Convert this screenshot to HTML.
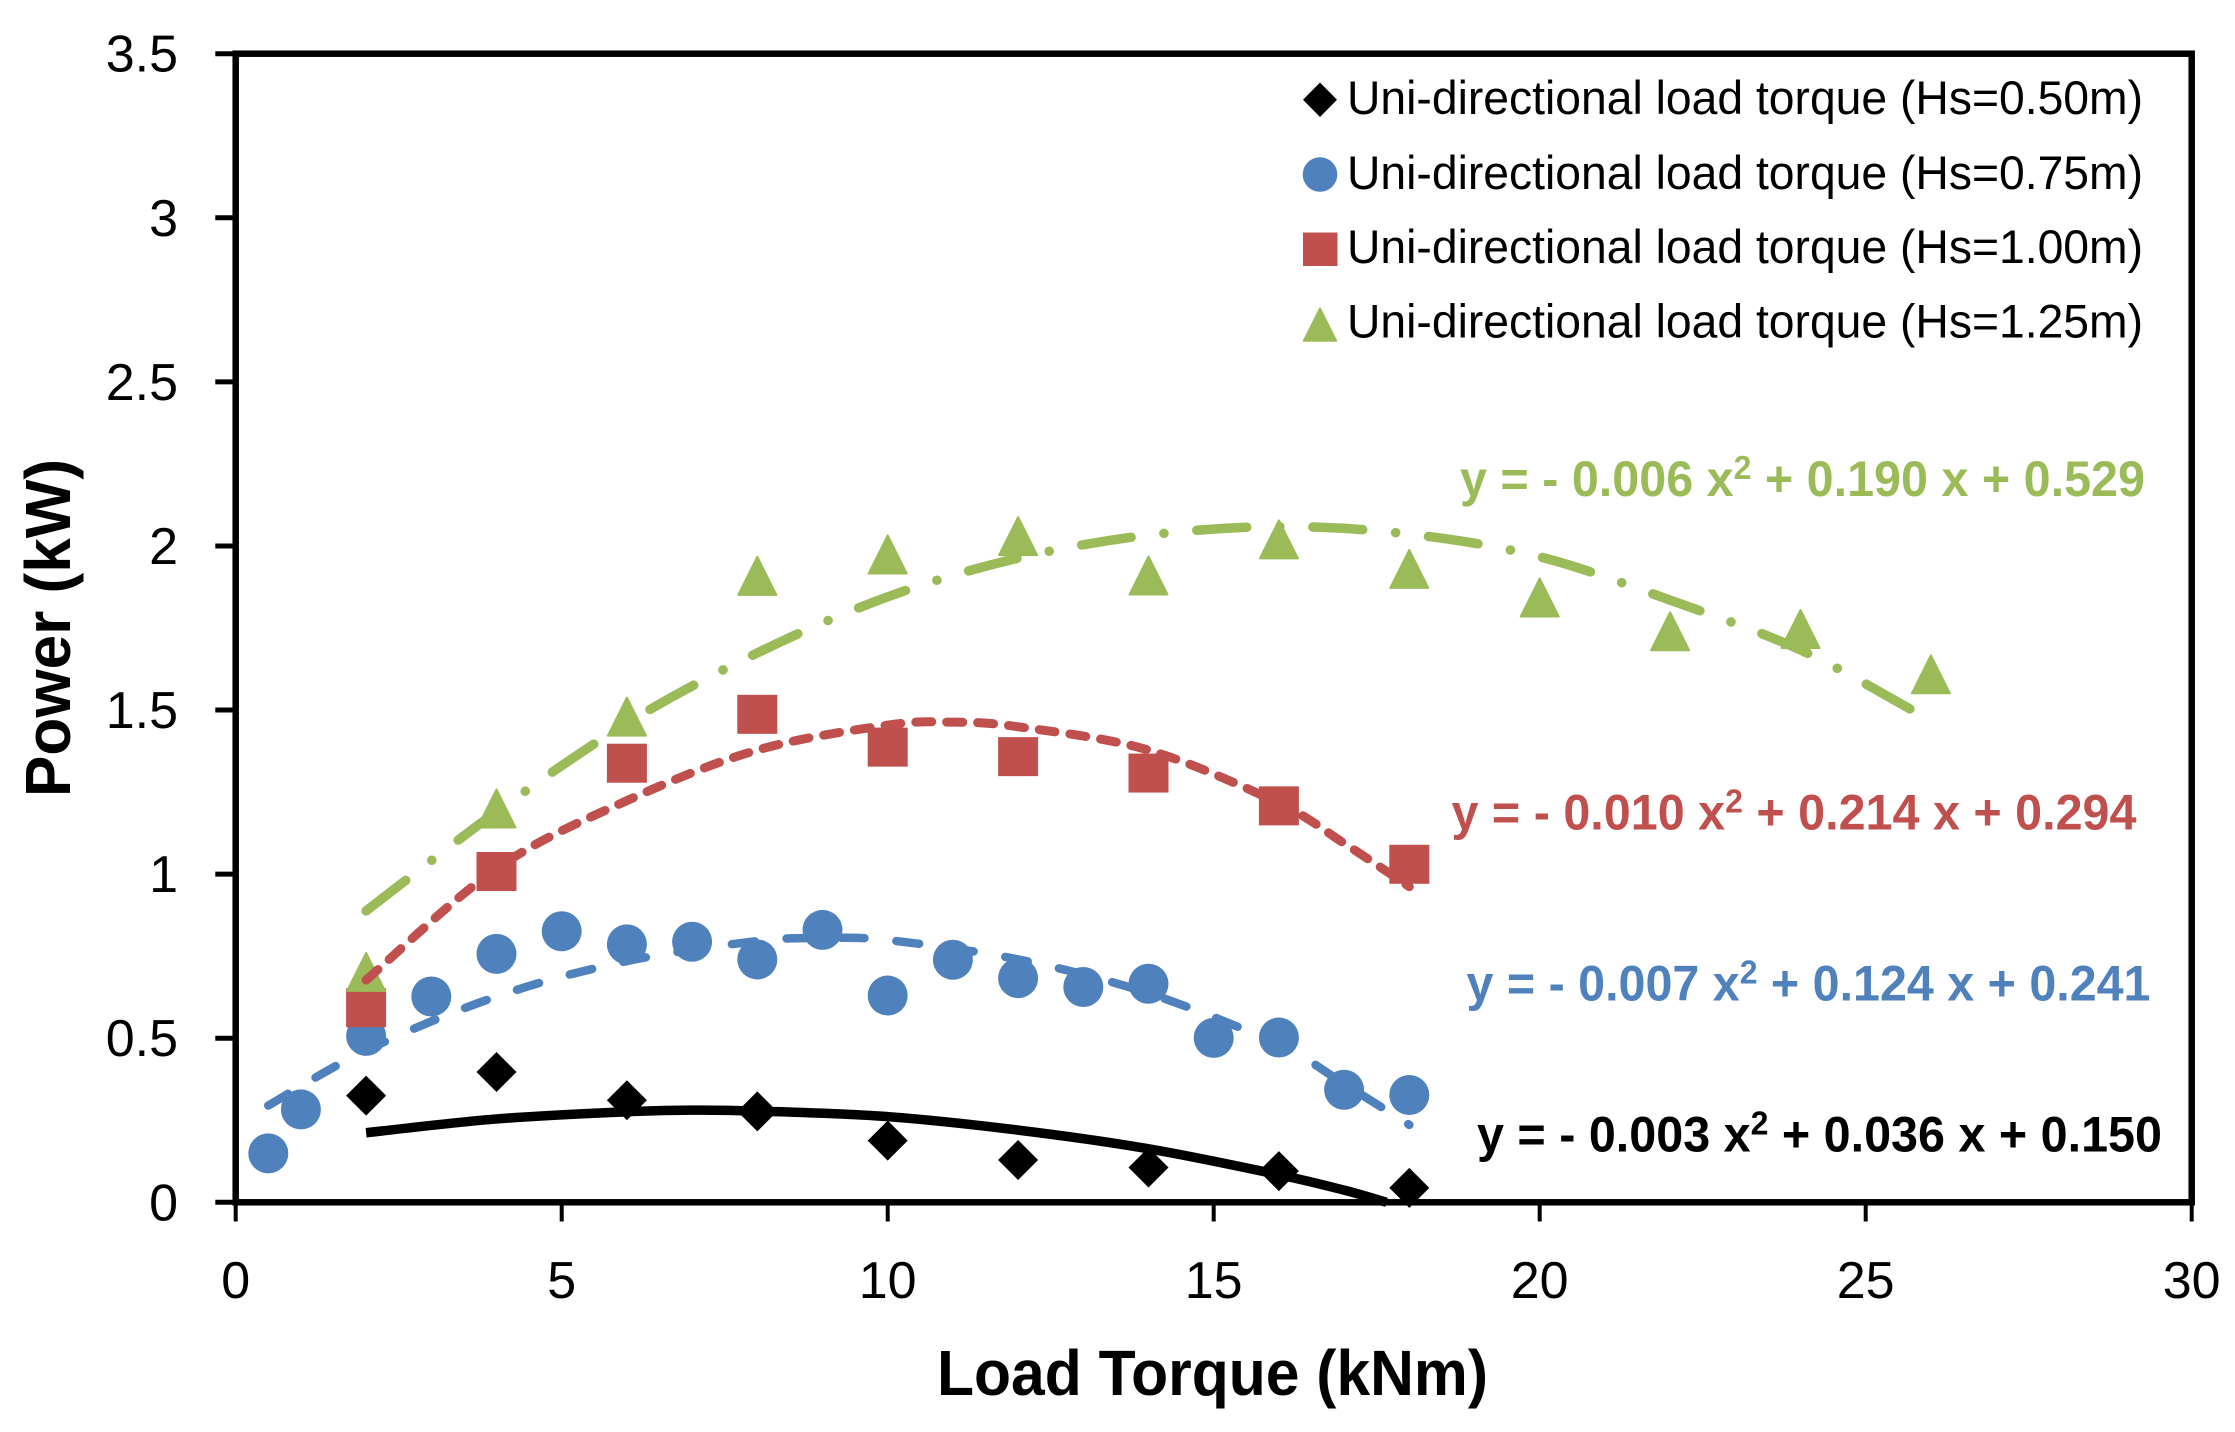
<!DOCTYPE html>
<html lang="en">
<head>
<meta charset="utf-8">
<title>Power versus Load Torque</title>
<style>
html,body{margin:0;padding:0;background:#fff;}
svg{display:block;}
text{font-family:"Liberation Sans",sans-serif;}
</style>
</head>
<body>
<svg id="chart" xmlns="http://www.w3.org/2000/svg" width="2235" height="1432" viewBox="0 0 2235 1432">
  <rect x="0" y="0" width="2235" height="1432" fill="#ffffff"/>
  <g id="ticks"></g>
  <g id="tick-labels"></g>
  <g id="marks"></g>
  <g id="trends"></g>
  <rect x="235.7" y="53.7" width="1956" height="1148.6" fill="none" stroke="#000" stroke-width="6.5"/>

  <text x="937" y="1395" font-size="64" font-weight="bold" textLength="551" lengthAdjust="spacingAndGlyphs">Load Torque (kNm)</text>
  <text transform="translate(70 797) rotate(-90)" x="0" y="0" font-size="64" font-weight="bold" textLength="338" lengthAdjust="spacingAndGlyphs">Power (kW)</text>

  <g>
    <g>
      <path d="M1320 82.5 L1337 99.7 L1320 117 L1303 99.7 Z" fill="#000"/>
      <text x="1347" y="114" font-size="47" textLength="796" lengthAdjust="spacingAndGlyphs">Uni-directional load torque (Hs=0.50m)</text>
    </g>
    <g>
      <circle cx="1320" cy="174.5" r="17.3" fill="#4F81BD"/>
      <text x="1347" y="189" font-size="47" textLength="796" lengthAdjust="spacingAndGlyphs">Uni-directional load torque (Hs=0.75m)</text>
    </g>
    <g>
      <rect x="1303" y="232.5" width="34.5" height="33.5" fill="#C0504D"/>
      <text x="1347" y="263" font-size="47" textLength="796" lengthAdjust="spacingAndGlyphs">Uni-directional load torque (Hs=1.00m)</text>
    </g>
    <g>
      <path d="M1320 308 L1336.5 341 L1303.5 341 Z" fill="#9BBB59" stroke="#9BBB59" stroke-width="1.5" stroke-linejoin="round"/>
      <text x="1347" y="337.7" font-size="47" textLength="796" lengthAdjust="spacingAndGlyphs">Uni-directional load torque (Hs=1.25m)</text>
    </g>
  </g>

  <text x="1460" y="496" font-size="50" font-weight="bold" fill="#9BBB59" textLength="685" lengthAdjust="spacingAndGlyphs">y = - 0.006 x<tspan dy="-17" font-size="33">2</tspan><tspan dy="17"> + 0.190 x + 0.529</tspan></text>
  <text x="1451.5" y="829.5" font-size="50" font-weight="bold" fill="#C0504D" textLength="685" lengthAdjust="spacingAndGlyphs">y = - 0.010 x<tspan dy="-17" font-size="33">2</tspan><tspan dy="17"> + 0.214 x + 0.294</tspan></text>
  <text x="1466.5" y="1000.5" font-size="50" font-weight="bold" fill="#4F81BD" textLength="684" lengthAdjust="spacingAndGlyphs">y = - 0.007 x<tspan dy="-17" font-size="33">2</tspan><tspan dy="17"> + 0.124 x + 0.241</tspan></text>
  <text x="1477" y="1151.5" font-size="50" font-weight="bold" fill="#000000" textLength="685" lengthAdjust="spacingAndGlyphs">y = - 0.003 x<tspan dy="-17" font-size="33">2</tspan><tspan dy="17"> + 0.036 x + 0.150</tspan></text>
</svg>
<script>
const xTickValues = [0, 5, 10, 15, 20, 25, 30];
const yTickValues = [0, 0.5, 1, 1.5, 2, 2.5, 3, 3.5];
const xTickLabels = ["0", "5", "10", "15", "20", "25", "30"];
const yTickLabels = ["0", "0.5", "1", "1.5", "2", "2.5", "3", "3.5"];

const torqueHs050 = [2, 4, 6, 8, 10, 12, 14, 16, 18];
const powerHs050 = [0.325, 0.397, 0.311, 0.277, 0.188, 0.129, 0.106, 0.095, 0.044];
const torqueHs075 = [0.5, 1, 2, 3, 4, 5, 6, 7, 8, 9, 10, 11, 12, 13, 14, 15, 16, 17, 18];
const powerHs075 = [0.149, 0.283, 0.507, 0.627, 0.757, 0.826, 0.786, 0.794, 0.74, 0.83, 0.63, 0.739, 0.683, 0.656, 0.666, 0.501, 0.502, 0.343, 0.327];
const torqueHs100 = [2, 4, 6, 8, 10, 12, 14, 16, 18];
const powerHs100 = [0.593, 1.008, 1.338, 1.487, 1.387, 1.358, 1.308, 1.208, 1.03];
const torqueHs125 = [2, 4, 6, 8, 10, 12, 14, 16, 18, 20, 22, 24, 26];
const powerHs125 = [0.702, 1.2, 1.48, 1.909, 1.974, 2.03, 1.91, 2.02, 1.93, 1.843, 1.74, 1.747, 1.609];

const trendTorqueHs050 = [2, 4, 6, 7, 8, 10, 12, 14, 16, 17, 17.65];
const trendPowerHs050 = [0.212, 0.254, 0.276, 0.281, 0.278, 0.261, 0.22, 0.163, 0.084, 0.037, 0];
const trendTorqueHs075 = [0.5, 2, 4, 6, 8, 9, 10, 12, 14, 16, 17, 18];
const trendPowerHs075 = [0.295, 0.463, 0.627, 0.735, 0.796, 0.805, 0.799, 0.74, 0.637, 0.48, 0.361, 0.236];
const trendTorqueHs100 = [2, 4, 6, 8, 10, 11, 12, 14, 16, 17, 18];
const trendPowerHs100 = [0.677, 1.017, 1.224, 1.378, 1.454, 1.463, 1.449, 1.378, 1.216, 1.094, 0.962];
const trendTorqueHs125 = [2, 4, 6, 8, 10, 12, 14, 16, 18, 20, 22, 24, 25.8];
const trendPowerHs125 = [0.888, 1.19, 1.46, 1.674, 1.845, 1.963, 2.033, 2.059, 2.036, 1.967, 1.835, 1.683, 1.49];

const SVG_NS = "http://www.w3.org/2000/svg";
const plotLeft = 235.7, plotRight = 2191.7, plotTop = 53.7, plotBottom = 1202.3;
const xMax = 30, yMax = 3.5;
function xScale(v) { return plotLeft + (v / xMax) * (plotRight - plotLeft); }
function yScale(v) { return plotBottom - (v / yMax) * (plotBottom - plotTop); }

function make(tag, attrs, parent) {
  const node = document.createElementNS(SVG_NS, tag);
  for (const k in attrs) node.setAttribute(k, attrs[k]);
  parent.appendChild(node);
  return node;
}

const ticksGroup = document.getElementById("ticks");
const labelsGroup = document.getElementById("tick-labels");
const marksGroup = document.getElementById("marks");
const trendsGroup = document.getElementById("trends");

xTickValues.forEach(function (v, i) {
  const x = xScale(v);
  const tick = make("line", {x1: x, x2: x, y1: plotBottom, y2: 1221.5, stroke: "#000", "stroke-width": 4}, ticksGroup);
  
  
  const label = make("text", {x: x, y: 1298, "font-size": 52, "text-anchor": "middle"}, labelsGroup);
  label.textContent = xTickLabels[i];
  
  
});

yTickValues.forEach(function (v, i) {
  const y = yScale(v);
  const tick = make("line", {x1: 215.3, x2: plotLeft, y1: y, y2: y, stroke: "#000", "stroke-width": 5}, ticksGroup);
  
  
  const label = make("text", {x: 178, y: y + 18, "font-size": 52, "text-anchor": "end"}, labelsGroup);
  label.textContent = yTickLabels[i];
  
  
});

function diamond(xv, yv, color) {
  const x = xScale(xv), y = yScale(yv);
  return make("path", {d: "M" + x + " " + (y - 20) + " L" + (x + 20) + " " + y + " L" + x + " " + (y + 20) + " L" + (x - 20) + " " + y + " Z", fill: color}, marksGroup);
}
function disc(xv, yv, color) {
  return make("circle", {cx: xScale(xv), cy: yScale(yv), r: 20, fill: color}, marksGroup);
}
function square(xv, yv, color) {
  return make("rect", {x: xScale(xv) - 20, y: yScale(yv) - 19.5, width: 40, height: 39, fill: color}, marksGroup);
}
function triangle(xv, yv, color) {
  const x = xScale(xv), y = yScale(yv);
  return make("path", {d: "M" + x + " " + (y - 19) + " L" + (x + 19) + " " + (y + 19) + " L" + (x - 19) + " " + (y + 19) + " Z", fill: color, stroke: color, "stroke-width": 2, "stroke-linejoin": "round"}, marksGroup);
}

torqueHs050.forEach(function (t, i) {
  const el = diamond(t, powerHs050[i], "#000000");
  
  
});
torqueHs075.forEach(function (t, i) {
  const el = disc(t, powerHs075[i], "#4F81BD");
  
  
});
torqueHs100.forEach(function (t, i) {
  const el = square(t, powerHs100[i], "#C0504D");
  
  
});
torqueHs125.forEach(function (t, i) {
  const el = triangle(t, powerHs125[i], "#9BBB59");
  
  
});

function smoothPath(xs, ys) {
  const p = xs.map(function (v, i) { return [xScale(v), yScale(ys[i])]; });
  let d = "M" + p[0][0] + " " + p[0][1];
  for (let i = 0; i < p.length - 1; i++) {
    const a = p[Math.max(i - 1, 0)], b = p[i], c = p[i + 1], e = p[Math.min(i + 2, p.length - 1)];
    const c1x = b[0] + (c[0] - a[0]) / 6, c1y = b[1] + (c[1] - a[1]) / 6;
    const c2x = c[0] - (e[0] - b[0]) / 6, c2y = c[1] - (e[1] - b[1]) / 6;
    d += " C" + c1x + " " + c1y + " " + c2x + " " + c2y + " " + c[0] + " " + c[1];
  }
  return d;
}

const trend050 = make("path", {d: smoothPath(trendTorqueHs050, trendPowerHs050), fill: "none", stroke: "#000000", "stroke-width": 9.5}, trendsGroup);



const trend075 = make("path", {d: smoothPath(trendTorqueHs075, trendPowerHs075), fill: "none", stroke: "#4F81BD", "stroke-width": 8.5, "stroke-linecap": "round", "stroke-dasharray": "23 32"}, trendsGroup);



const trend100 = make("path", {d: smoothPath(trendTorqueHs100, trendPowerHs100), fill: "none", stroke: "#C0504D", "stroke-width": 9, "stroke-linecap": "round", "stroke-dasharray": "16 15"}, trendsGroup);



const trend125 = make("path", {d: smoothPath(trendTorqueHs125, trendPowerHs125), fill: "none", stroke: "#9BBB59", "stroke-width": 9.5, "stroke-linecap": "round", "stroke-dasharray": "50 33 0.1 33"}, trendsGroup);


</script>
</body>
</html>
